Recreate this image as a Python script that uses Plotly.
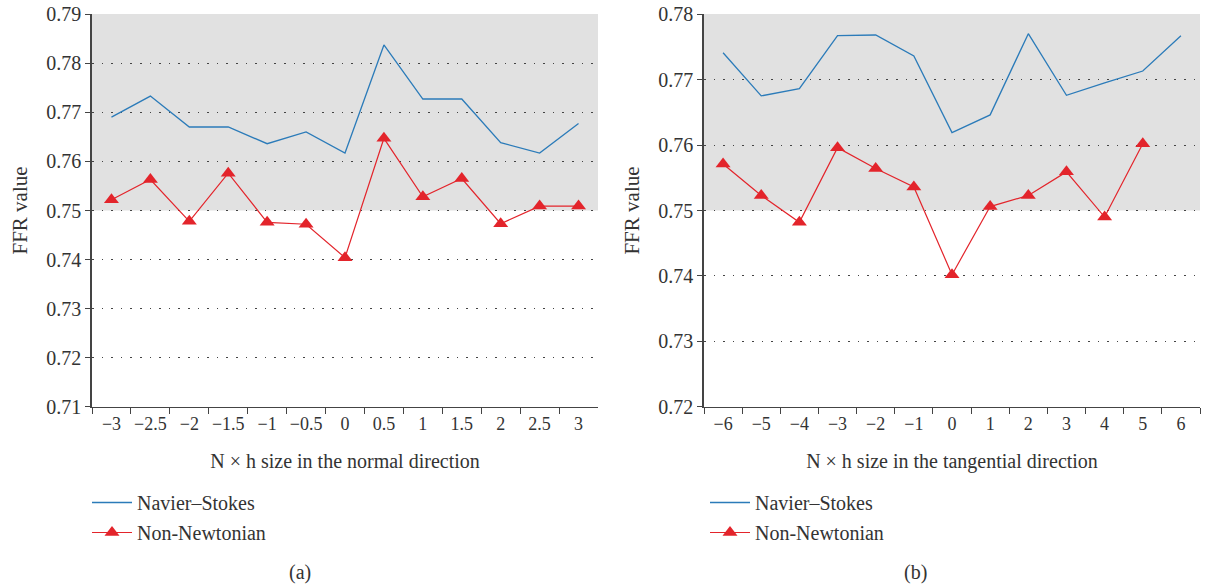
import plotly.graph_objects as go

# ---- data ----
cats_a = ["−3", "−2.5", "−2", "−1.5", "−1", "−0.5", "0", "0.5", "1", "1.5", "2", "2.5", "3"]
ns_a = [0.7690, 0.7733, 0.7670, 0.7670, 0.7636, 0.7660, 0.7617, 0.7837, 0.7727, 0.7727, 0.7638, 0.7617, 0.7677]
nn_a = [0.7522, 0.7563, 0.7478, 0.7576, 0.7476, 0.7472, 0.7404, 0.7647, 0.7528, 0.7565, 0.7473, 0.7509, 0.7509]

cats_b = ["−6", "−5", "−4", "−3", "−2", "−1", "0", "1", "2", "3", "4", "5", "6"]
ns_b = [0.7741, 0.7675, 0.7686, 0.7767, 0.7768, 0.7736, 0.7619, 0.7646, 0.7770, 0.7676, 0.7695, 0.7713, 0.7767]
nn_b = [0.7571, 0.7523, 0.7482, 0.7596, 0.7564, 0.7536, 0.7402, 0.7506, 0.7523, 0.7559, 0.7490, 0.7602]

yticks_a = [0.71, 0.72, 0.73, 0.74, 0.75, 0.76, 0.77, 0.78, 0.79]
yticks_b = [0.72, 0.73, 0.74, 0.75, 0.76, 0.77, 0.78]

series_names = ["Navier–Stokes", "Non-Newtonian"]
xtitle_a = "N × h size in the normal direction"
xtitle_b = "N × h size in the tangential direction"
captions = ["(a)", "(b)"]

BLUE = "#2b7bb9"
RED = "#e3242b"
FONT = "Liberation Serif"
TXT = "#333333"
W, H = 1207, 588

fig = go.Figure()

fig.add_trace(go.Scatter(x=cats_a, y=ns_a, mode="lines", name=series_names[0],
                         line=dict(color=BLUE, width=1.3), xaxis="x", yaxis="y",
                         legend="legend", legendgroup="a1"))
fig.add_trace(go.Scatter(x=cats_a, y=nn_a, mode="lines+markers", name=series_names[1],
                         line=dict(color=RED, width=1.2),
                         marker=dict(symbol="triangle-up", size=13, color=RED),
                         xaxis="x", yaxis="y", legend="legend", legendgroup="a2"))
fig.add_trace(go.Scatter(x=cats_b, y=ns_b, mode="lines", name=series_names[0],
                         line=dict(color=BLUE, width=1.3), xaxis="x2", yaxis="y2",
                         legend="legend2", legendgroup="b1"))
fig.add_trace(go.Scatter(x=cats_b[:len(nn_b)], y=nn_b, mode="lines+markers", name=series_names[1],
                         line=dict(color=RED, width=1.2),
                         marker=dict(symbol="triangle-up", size=13, color=RED),
                         xaxis="x2", yaxis="y2", legend="legend2", legendgroup="b2"))

def xax(domain, cats, title):
    return dict(domain=domain, type="category", categoryorder="array", categoryarray=cats,
                range=[-0.5, len(cats) - 0.5],
                tickson="boundaries", ticks="outside", ticklen=6, tickwidth=1.2,
                tickcolor="#444", showline=True, linecolor="#444", linewidth=1.2,
                showgrid=False, zeroline=False, fixedrange=True, tickangle=0,
                automargin=False,
                tickfont=dict(family=FONT, size=18, color=TXT),
                title=dict(text=title, font=dict(family=FONT, size=20, color=TXT), standoff=21))

def yax(domain, ticks, anchor):
    return dict(domain=domain, range=[ticks[0] - 1e-5, ticks[-1] + 1e-5], tickvals=ticks, tickformat=".2f",
                ticks="outside", ticklen=5, tickwidth=1.2, tickcolor="#444",
                showline=True, linecolor="#444", linewidth=1.5, anchor=anchor,
                showgrid=True, gridcolor="#444", gridwidth=1.2, griddash="1.6px,8px",
                zeroline=False, fixedrange=True, ticklabeloverflow="allow", automargin=False,
                tickfont=dict(family=FONT, size=20, color=TXT),
                title=dict(text="FFR value", font=dict(family=FONT, size=21, color=TXT), standoff=13))

ydom = [1 - 407 / H, 1 - 14 / H]

fig.update_layout(
    width=W, height=H,
    margin=dict(l=0, r=0, t=0, b=0, autoexpand=False),
    paper_bgcolor="white", plot_bgcolor="white",
    xaxis=xax([92 / W, 598 / W], cats_a, xtitle_a) | dict(anchor="y"),
    yaxis=yax(ydom, yticks_a, "x"),
    xaxis2=xax([704 / W, 1200 / W], cats_b, xtitle_b) | dict(anchor="y2"),
    yaxis2=yax(ydom, yticks_b, "x2"),
    legend=dict(x=87 / W, y=1 - 483 / H, xanchor="left", yanchor="top",
                font=dict(family=FONT, size=20, color=TXT), tracegroupgap=1,
                itemwidth=40, bgcolor="rgba(0,0,0,0)"),
    legend2=dict(x=705 / W, y=1 - 483 / H, xanchor="left", yanchor="top",
                 font=dict(family=FONT, size=20, color=TXT), tracegroupgap=1,
                 itemwidth=40, bgcolor="rgba(0,0,0,0)"),
    showlegend=True,
    shapes=[
        dict(type="rect", xref="x domain", yref="y", x0=0, x1=1, y0=0.75, y1=yticks_a[-1],
             fillcolor="#e1e1e1", line=dict(width=0), layer="below"),
        dict(type="rect", xref="x2 domain", yref="y2", x0=0, x1=1, y0=0.75, y1=yticks_b[-1],
             fillcolor="#e1e1e1", line=dict(width=0), layer="below"),
    ],
    annotations=[
        dict(text=captions[0], x=300 / W, y=1 - 572 / H, xref="paper", yref="paper",
             xanchor="center", yanchor="middle",
             showarrow=False, font=dict(family=FONT, size=20, color=TXT)),
        dict(text=captions[1], x=915 / W, y=1 - 572 / H, xref="paper", yref="paper",
             xanchor="center", yanchor="middle",
             showarrow=False, font=dict(family=FONT, size=20, color=TXT)),
    ],
)

fig.write_html("out.html", config={"displayModeBar": False},
               post_script="document.body.style.margin='0px';document.documentElement.style.overflow='hidden';document.body.style.overflow='hidden';")
